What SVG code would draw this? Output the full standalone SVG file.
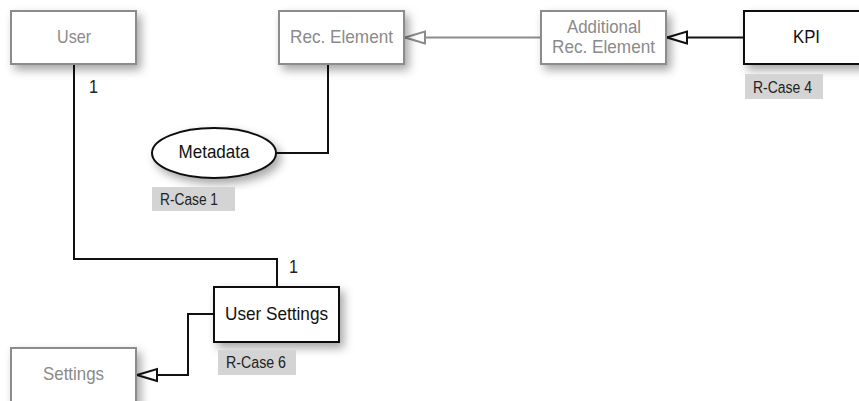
<svg xmlns="http://www.w3.org/2000/svg" width="859" height="401" viewBox="0 0 859 401">
<style>
.box{fill:#fff;filter:url(#sh)}
.grey{stroke:#8c8c8c;stroke-width:2}
.dark{stroke:#111;stroke-width:2}
.t{font-family:"Liberation Sans",Arial,sans-serif;font-size:19px;text-anchor:middle}
.tg{fill:#8a8a8a}
.tb{fill:#111}
.lbl{fill:#d4d4d4}
.lt{font-family:"Liberation Sans",Arial,sans-serif;font-size:16px;fill:#222}
.c{fill:none;stroke-width:2}
</style>
<defs>
<filter id="sh" x="-30%" y="-40%" width="170%" height="200%">
<feDropShadow dx="4" dy="5" stdDeviation="5" flood-color="#000" flood-opacity="0.35"/>
</filter>
<marker id="ag" markerUnits="userSpaceOnUse" markerWidth="24" markerHeight="16" viewBox="-2 -2 24 16" refX="20" refY="6" orient="auto">
<path d="M0,0 L20,6 L0,12 Z" fill="#fff" stroke="#8c8c8c" stroke-width="2"/>
</marker>
<marker id="ab" markerUnits="userSpaceOnUse" markerWidth="24" markerHeight="16" viewBox="-2 -2 24 16" refX="20" refY="6" orient="auto">
<path d="M0,0 L20,6 L0,12 Z" fill="#fff" stroke="#111" stroke-width="2"/>
</marker>
</defs>
<g id="connectors">
<path class="c" stroke="#111" d="M74,64 V259 H277 V287"/>
<path class="c" stroke="#111" d="M276,153 H328 V64"/>
<path class="c" stroke="#8c8c8c" d="M541,37.5 H405" marker-end="url(#ag)"/>
<path class="c" stroke="#111" d="M744,37.5 H667" marker-end="url(#ab)"/>
<path class="c" stroke="#111" d="M214,314 H188 V375 H137" marker-end="url(#ab)"/>
<text class="lt" style="font-size:19px" x="89" y="93" textLength="9" lengthAdjust="spacingAndGlyphs">1</text>
<text class="lt" style="font-size:19px" x="289" y="273" textLength="9" lengthAdjust="spacingAndGlyphs">1</text>
</g>
<g id="user">
<rect class="box grey" x="11" y="11" width="125" height="53"/>
<text class="t tg" x="74" y="43" textLength="34" lengthAdjust="spacingAndGlyphs">User</text>
</g>
<g id="rec-element">
<rect class="box grey" x="279" y="11" width="125" height="53"/>
<text class="t tg" x="341.5" y="43" textLength="103" lengthAdjust="spacingAndGlyphs">Rec. Element</text>
</g>
<g id="additional-rec-element">
<rect class="box grey" x="541" y="11" width="125" height="53"/>
<text class="t tg" x="604" y="32.5" textLength="74" lengthAdjust="spacingAndGlyphs">Additional</text>
<text class="t tg" x="603.5" y="53" textLength="103" lengthAdjust="spacingAndGlyphs">Rec. Element</text>
</g>
<g id="kpi">
<rect class="box dark" x="744" y="11" width="125" height="53"/>
<text class="t tb" x="806.5" y="43" textLength="27" lengthAdjust="spacingAndGlyphs">KPI</text>
<rect class="lbl" x="745" y="74" width="78" height="25"/>
<text class="lt" x="753" y="92.5" textLength="59" lengthAdjust="spacingAndGlyphs">R-Case 4</text>
</g>
<g id="metadata">
<ellipse class="box dark" cx="214" cy="153" rx="62" ry="25"/>
<text class="t tb" x="214" y="157.5" textLength="71" lengthAdjust="spacingAndGlyphs">Metadata</text>
<rect class="lbl" x="152" y="187" width="83" height="24"/>
<text class="lt" x="160" y="204.5" textLength="58" lengthAdjust="spacingAndGlyphs">R-Case 1</text>
</g>
<g id="user-settings">
<rect class="box dark" x="214" y="287" width="125" height="55"/>
<text class="t tb" x="276.5" y="319.5" textLength="103" lengthAdjust="spacingAndGlyphs">User Settings</text>
<rect class="lbl" x="218" y="350" width="78" height="25"/>
<text class="lt" x="226" y="368" textLength="60" lengthAdjust="spacingAndGlyphs">R-Case 6</text>
</g>
<g id="settings">
<rect class="box grey" x="11" y="348" width="125" height="60"/>
<text class="t tg" x="73.5" y="380" textLength="61" lengthAdjust="spacingAndGlyphs">Settings</text>
</g>
</svg>
